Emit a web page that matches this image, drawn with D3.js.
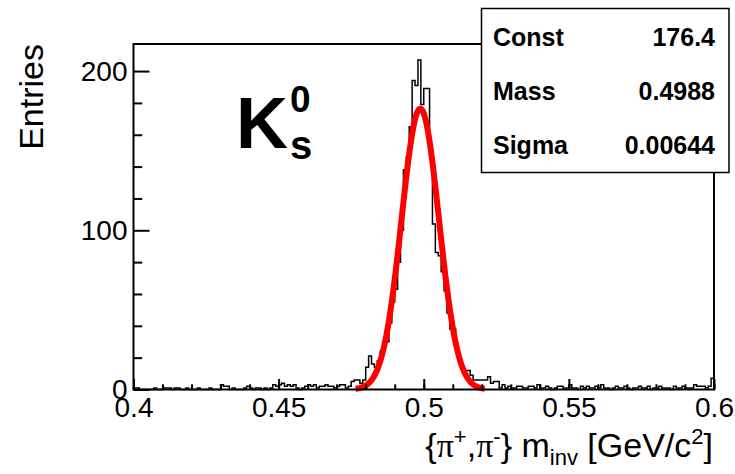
<!DOCTYPE html>
<html>
<head>
<meta charset="utf-8">
<script src="https://cdn.jsdelivr.net/npm/d3@7"></script>
<style>
  body { margin: 0; background: #fff; }
  svg { display: block; font-family: 'Liberation Sans', Arial, Helvetica, sans-serif; }
  .hist { fill: none; stroke: #000; stroke-width: 1.5; }
  .fit { fill: none; stroke: #ff0000; stroke-width: 6; stroke-linejoin: round; }
  .frame { fill: none; stroke: #000; stroke-width: 2; }
  .axis path.domain { display: none; }
  .axis line { stroke: #000; stroke-width: 2; }
  .axis text { font-size: 28px; fill: #000; font-family: 'Liberation Sans', Arial, sans-serif; }
</style>
</head>
<body>
<svg id="plotarea"></svg>
<script>
// histogram: 200 bins of 0.001 starting at 0.4
const binLow = 0.4;
const binWidth = 0.001;
const counts = [
  1, 1, 0, 0, 0, 0, 0, 1, 0, 0,   1, 1, 1, 0, 1, 1, 0, 0, 1, 0,
  0, 0, 1, 0, 0, 0, 1, 0, 0, 0,   3, 2, 2, 0, 1, 0, 0, 0, 1, 2,
  1, 0, 1, 1, 0, 1, 0, 1, 3, 2,   3, 4, 2, 3, 2, 3, 1, 0, 1, 2,
  3, 2, 3, 1, 2, 2, 3, 2, 2, 1,   2, 3, 3, 1, 2, 5, 6, 6, 4, 6,
  14, 21, 16, 14, 18, 24, 27, 30, 42, 55,   63, 80, 100, 138, 146, 165, 194, 191, 207, 179,
  189, 189, 150, 104, 86, 84, 74, 62, 48, 38,   38, 26, 19, 14, 12, 12, 9, 6, 6, 6,
  6, 6, 8, 4, 5, 5, 1, 3, 1, 2,   1, 1, 2, 2, 1, 1, 2, 2, 1, 3,
  1, 1, 2, 1, 0, 1, 2, 2, 1, 1,   3, 1, 1, 0, 2, 1, 2, 1, 1, 2,
  1, 3, 1, 1, 0, 1, 2, 1, 1, 2,   1, 0, 1, 1, 2, 1, 1, 2, 0, 1,
  1, 2, 1, 1, 1, 0, 2, 1, 1, 2,   1, 1, 1, 3, 2, 2, 2, 1, 2, 7
];

// gaussian fit shown in the stats box
const fitParams = [176.4, 0.4988, 0.00644]; // const, mean, sigma
const fitRange = [0.4765, 0.521];
const statNames = ['Const', 'Mass', 'Sigma'];
const statValues = ['176.4', '0.4988', '0.00644'];

const xMajor = [0.4, 0.45, 0.5, 0.55, 0.6];
const xLabels = ['0.4', '0.45', '0.5', '0.55', '0.6'];
const xMinor = d3.range(0, 21).map(i => 0.4 + i * 0.01);
const yMajor = [0, 100, 200];
const yMinor = [20, 40, 60, 80, 120, 140, 160, 180];
const yMax = 217;

const W = 735, H = 474;
const frame = { left: 133.5, right: 714, top: 44, bottom: 389.5 };

const svg = d3.select('#plotarea').attr('width', W).attr('height', H);

const x = d3.scaleLinear().domain([0.4, 0.6]).range([frame.left, frame.right]);
const y = d3.scaleLinear().domain([0, yMax]).range([frame.bottom, frame.top]);

// histogram outline
var pts = [[binLow, 0]];
counts.forEach(function(c, i) {
    pts.push([binLow + i * binWidth, c]);
    pts.push([binLow + (i + 1) * binWidth, c]);
});
pts.push([binLow + counts.length * binWidth, 0]);

var stepLine = d3.line()
                 .x(d => x(d[0]))
                 .y(d => y(d[1]));

svg.append('path')
   .attr('class', 'hist')
   .attr('d', stepLine(pts));

// fit curve
var gaus = function(m) {
    var t = (m - fitParams[1]) / fitParams[2];
    return fitParams[0] * Math.exp(-0.5 * t * t);
};
var fitPts = d3.range(0, 301).map(function(i) {
    var m = fitRange[0] + (fitRange[1] - fitRange[0]) * i / 300;
    return [m, gaus(m)];
});
svg.append('path')
   .attr('class', 'fit')
   .attr('d', stepLine(fitPts));

// axes (ROOT style ticks pointing inwards)
svg.append('g')
   .attr('class', 'axis')
   .attr('transform', `translate(0, ${frame.bottom})`)
   .call(d3.axisBottom(x).tickValues(xMinor).tickSize(-5.2).tickFormat(''));

svg.append('g')
   .attr('class', 'axis')
   .attr('transform', `translate(0, ${frame.bottom})`)
   .call(d3.axisBottom(x).tickValues(xMajor).tickSize(-10.5).tickPadding(8)
            .tickFormat((d, i) => xLabels[i]));

svg.append('g')
   .attr('class', 'axis')
   .attr('transform', `translate(${frame.left}, 0)`)
   .call(d3.axisLeft(y).tickValues(yMinor).tickSize(-8.7).tickFormat(''));

svg.append('g')
   .attr('class', 'axis')
   .attr('transform', `translate(${frame.left}, 0)`)
   .call(d3.axisLeft(y).tickValues(yMajor).tickSize(-16).tickPadding(6));

svg.append('rect')
   .attr('class', 'frame')
   .attr('x', frame.left)
   .attr('y', frame.top)
   .attr('width', frame.right - frame.left)
   .attr('height', frame.bottom - frame.top);

// y title
svg.append('text')
   .attr('transform', `translate(43, ${frame.top}) rotate(-90)`)
   .style('text-anchor', 'end')
   .style('font-size', '34px')
   .text('Entries');

// x title
var xt = svg.append('text')
            .attr('x', 713)
            .attr('y', 457)
            .style('text-anchor', 'end')
            .style('font-size', '34px');
xt.append('tspan').text('{');
xt.append('tspan').style('font-family', "'Liberation Serif', serif").text('\u03c0');
xt.append('tspan').attr('dy', -13).style('font-size', '22px').text('+');
xt.append('tspan').attr('dy', 13).text(',');
xt.append('tspan').style('font-family', "'Liberation Serif', serif").text('\u03c0');
xt.append('tspan').attr('dy', -13).style('font-size', '22px').text('-');
xt.append('tspan').attr('dy', 13).text('} m');
xt.append('tspan').attr('dy', 8).style('font-size', '22px').text('inv');
xt.append('tspan').attr('dy', -8).text(' [GeV/c');
xt.append('tspan').attr('dy', -13).style('font-size', '22px').text('2');
xt.append('tspan').attr('dy', 13).text(']');

// K0s label
svg.append('text')
   .attr('x', 236)
   .attr('y', 148)
   .style('font-size', '72px')
   .style('font-weight', 'bold')
   .text('K');
svg.append('text')
   .attr('x', 290)
   .attr('y', 112)
   .style('font-size', '37px')
   .style('font-weight', 'bold')
   .text('0');
svg.append('text')
   .attr('x', 290)
   .attr('y', 159)
   .style('font-size', '40px')
   .style('font-weight', 'bold')
   .text('s');

// stats box
const box = { x: 481.5, y: 8.5, w: 247.5, h: 164 };
svg.append('rect')
   .attr('x', box.x)
   .attr('y', box.y)
   .attr('width', box.w)
   .attr('height', box.h)
   .style('fill', '#fff')
   .style('stroke', '#000')
   .style('stroke-width', 1.5);

var rowY = d3.scalePoint().domain(statNames).range([37, 145]);
statNames.forEach(function(n, i) {
    svg.append('text')
       .attr('x', 493)
       .attr('y', rowY(n))
       .attr('dy', '0.36em')
       .style('font-size', '25px')
       .style('font-weight', 'bold')
       .text(n);
    svg.append('text')
       .attr('x', 715)
       .attr('y', rowY(n))
       .attr('dy', '0.36em')
       .style('text-anchor', 'end')
       .style('font-size', '25px')
       .style('font-weight', 'bold')
       .text(statValues[i]);
});
</script>
</body>
</html>
